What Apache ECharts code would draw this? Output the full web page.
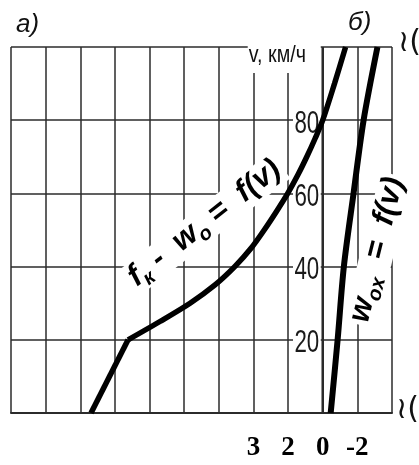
<!DOCTYPE html>
<html>
<head>
<meta charset="utf-8">
<title>fк - wо = f(v)</title>
<script src="https://cdn.jsdelivr.net/npm/echarts@6.0.0/dist/echarts.min.js"></script>
<style>
    html, body {
        margin: 0;
        padding: 0;
        background: #fff;
    }
    #chart {
        width: 419px;
        height: 465px;
    }
</style>
</head>
<body>
<div id="chart"></div>
<script>
// скорость, км/ч
const speedA = [0, 20, 25, 30, 35, 40, 45, 50, 55, 60, 65, 70, 75, 80, 90, 100];
// fк - wо, в клетках сетки (ось направлена влево)
const forceA = [6.69, 5.62, 4.7, 3.83, 3.11, 2.54, 2.07, 1.69, 1.34, 1.01, 0.72, 0.46, 0.22, 0, -0.34, -0.66];
const kneeIndex = 1; // излом при v = 20 км/ч

const speedB = [0, 20, 40, 60, 80, 100];
const forceB = [-0.23, -0.43, -0.61, -0.89, -1.18, -1.58];

// подписи под осью
const xTickValues = [2, 1, 0, -1];
const xTickLabels = ["3", "2", "0", "-2"];
const yTickLabels = [20, 40, 60, 80];

const gridColor = "#2b2b2b";
const hand = "'Liberation Sans', 'DejaVu Sans', sans-serif";

const chart = echarts.init(document.getElementById("chart"));

const richLabel = {
    m: { fontSize: 31, fontStyle: "italic", fontWeight: "bold", fontFamily: hand, color: "#111", verticalAlign: "top", lineHeight: 33 },
    s: { fontSize: 20, fontStyle: "italic", fontWeight: "bold", fontFamily: hand, color: "#111", verticalAlign: "top", padding: [15, 0, 0, 0], lineHeight: 20 }
};

const pointsA = speedA.map((v, i) => [forceA[i], v]);
const curveStyle = { color: "#000", width: 5.5 };

const option = {
    animation: false,
    grid: {
        left: 11,
        right: 27,
        top: 47,
        bottom: 52,
        outerBoundsMode: "none",
        containLabel: false
    },
    xAxis: {
        type: "value",
        inverse: true,
        min: -2,
        max: 9,
        interval: 1,
        axisLine: { show: true, lineStyle: { color: gridColor, width: 2 } },
        axisTick: { show: false },
        splitLine: { show: true, lineStyle: { color: gridColor, width: 1.5 } },
        axisLabel: {
            margin: 22,
            fontFamily: "'Liberation Serif', serif",
            fontWeight: "bold",
            fontSize: 27,
            color: "#000",
            formatter: (v) => {
                const i = xTickValues.indexOf(v);
                return i >= 0 ? xTickLabels[i] : "";
            }
        }
    },
    yAxis: {
        type: "value",
        min: 0,
        max: 100,
        interval: 20,
        axisLine: { show: false },
        axisTick: { show: false },
        axisLabel: { show: false },
        splitLine: { show: true, lineStyle: { color: gridColor, width: 1.5 } }
    },
    series: [
        {
            // прямой участок до излома
            type: "line",
            data: pointsA.slice(0, kneeIndex + 1),
            showSymbol: false,
            lineStyle: curveStyle,
            z: 3
        },
        {
            type: "line",
            data: pointsA.slice(kneeIndex),
            smooth: 0.3,
            showSymbol: false,
            lineStyle: curveStyle,
            z: 3
        },
        {
            type: "line",
            data: speedB.map((v, i) => [forceB[i], v]),
            smooth: 0.3,
            showSymbol: false,
            lineStyle: { color: "#000", width: 6 },
            z: 3
        }
    ]
};

chart.setOption(option);

// ось v проходит через ноль оси сил — ставим её и подписи по пикселям шкалы
const toPx = (x, y) => chart.convertToPixel({ gridIndex: 0 }, [x, y]);
const axisBottom = toPx(0, 0);
const axisTop = toPx(0, 100);

const elements = [
    { type: "text", x: 16, y: 12, style: { text: "а)", fontSize: 26, fontStyle: "italic", fontFamily: hand, fill: "#111" } },
    { type: "text", x: 348, y: 10, style: { text: "б)", fontSize: 26, fontStyle: "italic", fontFamily: hand, fill: "#111" } },
    // белое поле под подписью оси
    { type: "rect", z: 1, shape: { x: axisTop[0] - 75, y: axisTop[1] - 6, width: 73, height: 32 }, style: { fill: "#fff" } },
    {
        type: "text", x: axisTop[0] - 74, y: axisTop[1] - 4, z: 2, scaleX: 0.82,
        style: { text: "v, км/ч", fontSize: 24, fontFamily: hand, fill: "#111" }
    },
    {
        type: "line", z: 2,
        shape: { x1: axisBottom[0], y1: axisBottom[1], x2: axisTop[0], y2: axisTop[1] },
        style: { stroke: gridColor, lineWidth: 2.5 }
    },
    {
        type: "text", x: 205, y: 224, z: 1, rotation: 38 * Math.PI / 180,
        style: {
            text: "{m|f}{s|к}{m| -  w}{s|о}{m| =  f(v)}",
            rich: richLabel,
            align: "center",
            verticalAlign: "middle",
            backgroundColor: "#fff",
            padding: [0, 3]
        }
    },
    {
        type: "text", x: 378, y: 250, z: 1, rotation: 76 * Math.PI / 180,
        style: {
            text: "{m|w}{s|ox}{m|  =  f(v)}",
            rich: richLabel,
            align: "center",
            verticalAlign: "middle",
            backgroundColor: "#fff",
            padding: [0, 3]
        }
    },
    { type: "text", x: 398, y: 28, style: { text: "≀(", fontSize: 30, fontFamily: "'DejaVu Sans', sans-serif", fill: "#111" } },
    { type: "text", x: 396, y: 395, style: { text: "≀(", fontSize: 30, fontFamily: "'DejaVu Sans', sans-serif", fill: "#111" } }
];

yTickLabels.forEach((v) => {
    const p = toPx(0, v);
    elements.push({
        type: "text", x: p[0] - 2, y: p[1] + 4, z: 1, scaleX: 0.72,
        style: {
            text: String(v), fontSize: 31, fontFamily: hand, fill: "#1a1a1a",
            align: "right", verticalAlign: "middle", backgroundColor: "#fff", padding: [0, 2]
        }
    });
});

chart.setOption({ graphic: { elements } });
</script>
</body>
</html>
